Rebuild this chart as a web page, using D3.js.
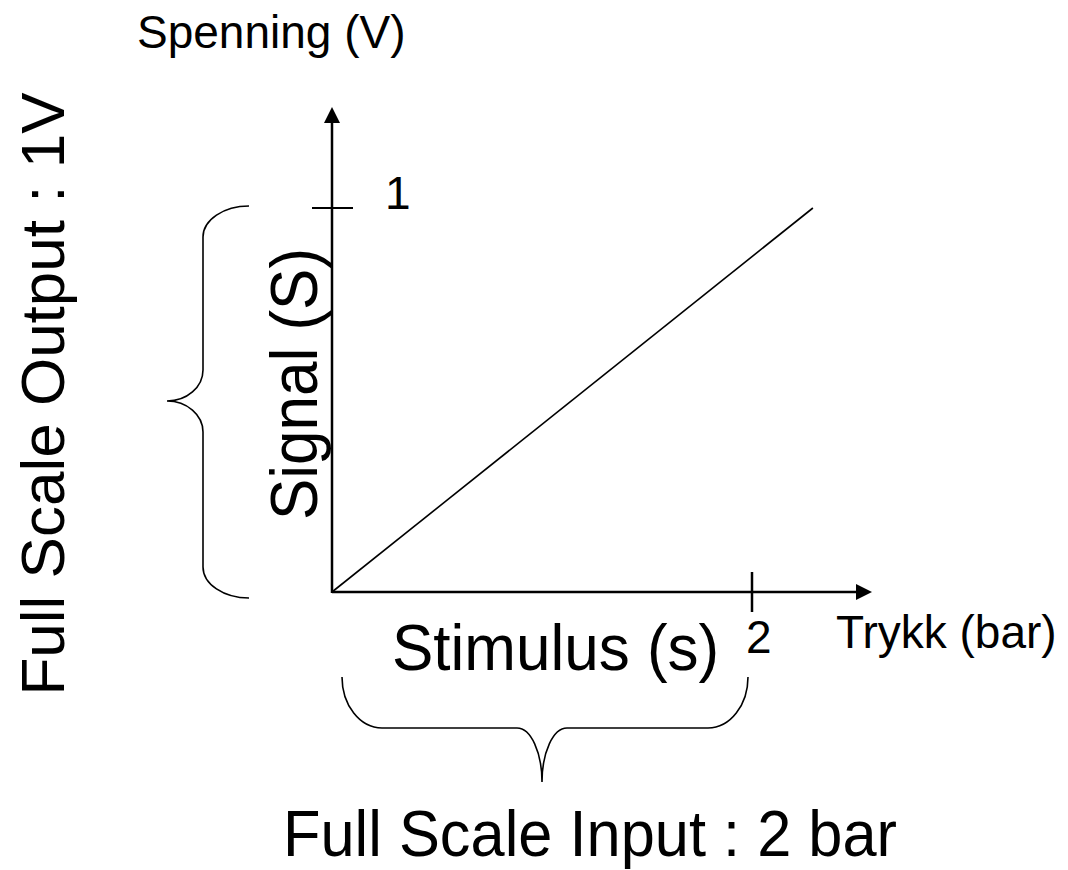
<!DOCTYPE html>
<html lang="no">
<head>
    <meta charset="UTF-8">
    <title>Full Scale Input / Output</title>
    <script src="https://d3js.org/d3.v7.min.js"></script>
    <style>
        body { margin: 0; background: #fff; }
        svg { display: block; }
        text { font-family: "Liberation Sans", Arial, sans-serif; fill: #000; }
    </style>
</head>
<body>
    <svg></svg>
    <script>
        // Data
        const xTicks = [2];
        const yTicks = [1];
        const signalLine = [[0, 0], [2.29, 1]];
        const xLabel = "Trykk (bar)";
        const yLabel = "Spenning (V)";
        const inputText = "Full Scale Input : 2 bar";
        const outputText = "Full Scale Output : 1V";

        const width = 1068, height = 870;
        const svg = d3.select("svg").attr("width", width).attr("height", height);

        // Scales
        const x = d3.scaleLinear().domain([0, 2]).range([332, 752]);
        const y = d3.scaleLinear().domain([0, 1]).range([592, 208]);
        const xEnd = 872, yEnd = 107;

        // Axes with arrow heads
        svg.append("line")
            .attr("x1", x(0)).attr("y1", y(0))
            .attr("x2", xEnd - 10).attr("y2", y(0))
            .attr("stroke", "#000").attr("stroke-width", 2.5);
        svg.append("path")
            .attr("d", `M${xEnd},${y(0)}L${xEnd - 16},${y(0) - 8}L${xEnd - 16},${y(0) + 8}Z`)
            .attr("fill", "#000");

        svg.append("line")
            .attr("x1", x(0)).attr("y1", y(0) + 1)
            .attr("x2", x(0)).attr("y2", yEnd + 10)
            .attr("stroke", "#000").attr("stroke-width", 2.5);
        svg.append("path")
            .attr("d", `M${x(0)},${yEnd}L${x(0) - 8},${yEnd + 16}L${x(0) + 8},${yEnd + 16}Z`)
            .attr("fill", "#000");

        // Ticks
        svg.selectAll(".xtick").data(xTicks).enter().append("line")
            .attr("x1", d => x(d)).attr("x2", d => x(d))
            .attr("y1", y(0) - 20).attr("y2", y(0) + 20)
            .attr("stroke", "#000").attr("stroke-width", 2.5);
        svg.selectAll(".xtl").data(xTicks).enter().append("text")
            .attr("x", d => x(d) - 6).attr("y", 653)
            .style("font-size", "46px")
            .text(d => d);

        svg.selectAll(".ytick").data(yTicks).enter().append("line")
            .attr("x1", x(0) - 20).attr("x2", x(0) + 21)
            .attr("y1", d => y(d)).attr("y2", d => y(d))
            .attr("stroke", "#000").attr("stroke-width", 2);
        svg.selectAll(".ytl").data(yTicks).enter().append("text")
            .attr("x", 385).attr("y", d => y(d) + 1)
            .style("font-size", "46px")
            .text(d => d);

        // Signal line
        svg.append("path")
            .datum(signalLine)
            .attr("d", d3.line().x(d => x(d[0])).y(d => y(d[1])))
            .attr("fill", "none")
            .attr("stroke", "#000")
            .attr("stroke-width", 1.6);

        // Axis labels
        svg.append("text").attr("x", 137).attr("y", 48)
            .style("font-size", "46px").text(yLabel);
        svg.append("text").attr("x", 836).attr("y", 648)
            .style("font-size", "46px").text(xLabel);

        // big labels are a bit taller than wide in the original
        svg.append("text")
            .attr("transform", "translate(392,670) scale(1,1.06)")
            .style("font-size", "62px").text("Stimulus (s)");
        svg.append("text")
            .attr("transform", "translate(317,384) rotate(-90) scale(1,1.07)")
            .attr("text-anchor", "middle")
            .style("font-size", "62px").text("Signal (S)");

        // Braces
        const bottomBrace = `M342,677 A40,51 0 0 0 382,728 L517,728 A25,54 0 0 1 542,782
            A25,54 0 0 1 567,728 L708,728 A40,51 0 0 0 748,677`;
        const leftBrace = `M249,206 A46,31 0 0 0 203,237 L203,370 A36,31 0 0 1 167,401
            A36,31 0 0 1 203,432 L203,567 A46,31 0 0 0 249,598`;
        svg.selectAll(".brace").data([bottomBrace, leftBrace]).enter().append("path")
            .attr("d", d => d)
            .attr("fill", "none")
            .attr("stroke", "#000")
            .attr("stroke-width", 1.6);

        svg.append("text")
            .attr("transform", "translate(283,856) scale(0.99,1.04)")
            .style("font-size", "62px").text(inputText);
        svg.append("text")
            .attr("transform", "translate(64,394) rotate(-90)")
            .attr("text-anchor", "middle")
            .style("font-size", "62px").text(outputText);
    </script>
</body>
</html>
